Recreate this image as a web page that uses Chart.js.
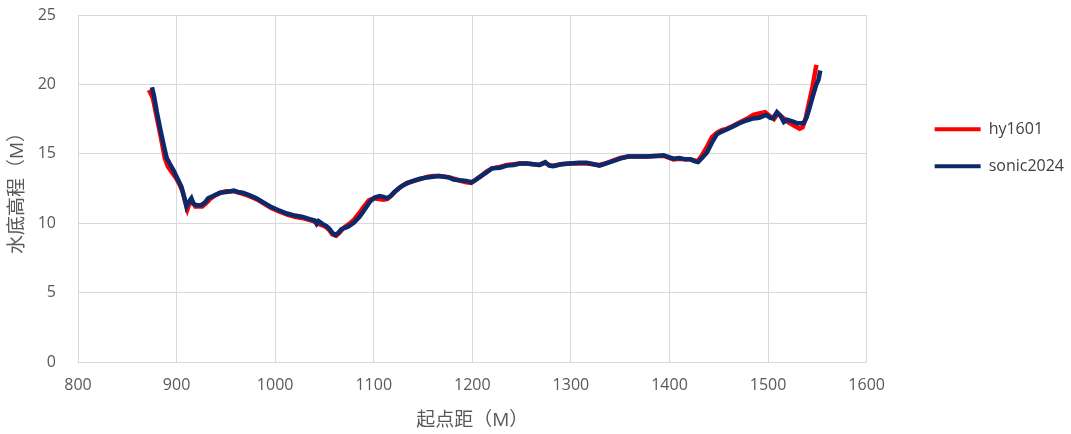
<!DOCTYPE html>
<html>
<head>
<meta charset="utf-8">
<script src="https://cdn.jsdelivr.net/npm/chart.js@4/dist/chart.umd.min.js"></script>
<style>
html,body{margin:0;padding:0;background:#fff;}
#wrap{width:1071px;height:434px;position:relative;}
</style>
</head>
<body>
<div id="wrap"><canvas id="c" width="1071" height="434"></canvas></div>
<script>
const seriesNames = ["hy1601", "sonic2024"];
const xTitle = "起点距（M）";
const yTitle = "水底高程（M）";

const hyDist = [872,876,880,884,888,891,895,899,903,906,909,911,913,916,919,922,926,930,934,939,945,950,955,959,963,968,972,977,982,989,996,1004,1013,1021,1029,1036,1041,1044,1048,1052,1055,1058,1062,1065,1068,1071,1075,1080,1085,1090,1095,1100,1105,1110,1114,1118,1122,1128,1134,1141,1148,1155,1161,1167,1172,1177,1182,1188,1194,1199,1203,1208,1214,1220,1228,1235,1242,1248,1255,1262,1268,1274,1278,1282,1290,1299,1308,1316,1323,1329,1335,1342,1350,1358,1366,1377,1386,1394,1400,1404,1410,1416,1421,1426,1429,1433,1438,1443,1448,1453,1458,1464,1471,1478,1485,1491,1497,1502,1506,1510,1515,1520,1527,1532,1535,1538,1541,1545,1548,1549];
const hyElev = [19.6,19.0,17.6,16.2,14.7,14.1,13.7,13.3,12.8,12.3,11.5,11.0,11.4,11.6,11.2,11.2,11.2,11.45,11.75,12.0,12.2,12.3,12.3,12.3,12.2,12.1,12.0,11.85,11.7,11.4,11.1,10.85,10.6,10.45,10.35,10.2,10.1,9.95,9.85,9.7,9.5,9.2,9.1,9.3,9.55,9.75,9.95,10.25,10.7,11.2,11.65,11.8,11.75,11.7,11.75,12.0,12.3,12.65,12.9,13.05,13.2,13.35,13.4,13.4,13.35,13.3,13.2,13.05,12.95,12.9,13.1,13.35,13.7,13.95,14.05,14.2,14.25,14.3,14.3,14.25,14.2,14.35,14.2,14.15,14.25,14.3,14.3,14.3,14.25,14.2,14.3,14.5,14.7,14.8,14.8,14.8,14.85,14.85,14.7,14.6,14.65,14.6,14.6,14.5,14.5,14.9,15.5,16.2,16.5,16.7,16.8,17.0,17.25,17.5,17.8,17.9,18.0,17.7,17.5,17.9,17.6,17.3,17.0,16.8,16.9,17.5,18.5,19.8,21.0,21.4];

const sonicDist = [875,877,880,884,888,890,893,897,901,905,908,910,912,915,917,920,925,929,932,938,944,950,955,958,962,967,971,976,981,988,995,1003,1012,1020,1028,1035,1040,1042,1044,1048,1052,1055,1058,1061,1064,1067,1070,1074,1080,1086,1091,1096,1101,1106,1110,1113,1117,1121,1127,1133,1140,1147,1154,1160,1166,1171,1176,1181,1187,1194,1199,1203,1208,1214,1220,1228,1235,1242,1248,1255,1262,1268,1274,1278,1282,1290,1299,1308,1316,1323,1329,1335,1342,1350,1358,1366,1377,1386,1394,1400,1404,1410,1416,1421,1426,1429,1433,1438,1443,1448,1453,1458,1464,1471,1478,1485,1491,1498,1502,1505,1509,1513,1516,1519,1524,1530,1536,1539,1542,1546,1549,1551,1553];
const sonicElev = [19.8,19.2,18.0,16.6,15.3,14.7,14.3,13.8,13.2,12.6,11.8,11.2,11.5,11.8,11.4,11.3,11.3,11.5,11.8,12.0,12.2,12.25,12.3,12.35,12.25,12.2,12.1,11.95,11.8,11.5,11.2,10.95,10.7,10.55,10.45,10.3,10.2,9.95,10.15,9.95,9.8,9.6,9.3,9.15,9.3,9.55,9.65,9.75,10.05,10.5,11.0,11.55,11.85,11.95,11.9,11.8,11.95,12.25,12.6,12.85,13.05,13.2,13.3,13.35,13.4,13.35,13.3,13.15,13.1,13.05,12.95,13.1,13.35,13.65,13.95,14.0,14.15,14.2,14.3,14.3,14.25,14.2,14.4,14.15,14.1,14.25,14.3,14.35,14.35,14.25,14.15,14.3,14.45,14.65,14.8,14.8,14.8,14.85,14.9,14.75,14.65,14.7,14.6,14.6,14.45,14.4,14.7,15.1,15.8,16.4,16.6,16.75,16.95,17.2,17.4,17.55,17.6,17.8,17.6,17.55,18.0,17.7,17.3,17.45,17.35,17.2,17.2,17.6,18.3,19.3,20.0,20.3,21.0];

const xTicks = [800,900,1000,1100,1200,1300,1400,1500,1600];
const yTicks = [0,5,10,15,20,25];

const colors = ["#ff0000", "#0c2a6a"];
const FONT = "'Open Sans', 'Noto Sans CJK SC', sans-serif";

function pts(xs, ys){ return xs.map((x,i)=>({x:x, y:ys[i]})); }

const legendShift = {
  id: 'legendShift',
  afterLayout(chart) {
    const lg = chart.legend;
    if (lg) { lg.left += 47; lg.right += 47; }
  }
};

new Chart(document.getElementById('c'), {
  type: 'scatter',
  data: {
    datasets: [
      {label: seriesNames[0], data: pts(hyDist, hyElev), showLine: true, borderColor: colors[0], backgroundColor: colors[0], borderWidth: 4.5, pointRadius: 0, tension: 0, order: 1},
      {label: seriesNames[1], data: pts(sonicDist, sonicElev), showLine: true, borderColor: colors[1], backgroundColor: colors[1], borderWidth: 4.5, pointRadius: 0, tension: 0, order: 0}
    ]
  },
  plugins: [legendShift],
  options: {
    responsive: false,
    animation: false,
    layout: {padding: {top: 15, right: 44, left: 5, bottom: 0}},
    plugins: {
      tooltip: {enabled: false},
      legend: {
        position: 'right',
        align: 'start',
        title: {display: true, text: ' ', padding: {top: 84, bottom: 0}, font: {size: 1}},
        labels: {
          boxWidth: 46, boxHeight: 4, padding: 21,
          color: '#404040',
          font: {family: FONT, size: 16},
          generateLabels: (chart) => chart.data.datasets.map((d,i)=>({
            text: d.label, fillStyle: d.borderColor, strokeStyle: d.borderColor, lineWidth: 0, datasetIndex: i, fontColor: '#404040'
          }))
        }
      }
    },
    scales: {
      x: {
        type: 'linear', min: 800, max: 1600,
        afterBuildTicks: (axis) => { axis.ticks = xTicks.map(v=>({value:v})); },
        afterFit: (axis) => { axis.height = 72; axis.paddingLeft = 0; axis.paddingRight = 0; },
        ticks: {color: '#595959', font: {family: FONT, size: 16}, padding: 14, maxRotation: 0, callback: (v) => String(v)},
        grid: {color: '#d9d9d9', lineWidth: 1, drawTicks: false},
        border: {color: '#d9d9d9'},
        title: {display: true, text: xTitle, color: '#595959', font: {family: FONT, size: 19}, padding: {top: 4, bottom: 2}}
      },
      y: {
        min: 0, max: 25,
        afterBuildTicks: (axis) => { axis.ticks = yTicks.map(v=>({value:v})); },
        afterFit: (axis) => { axis.width = 73; axis.paddingTop = 0; axis.paddingBottom = 0; },
        ticks: {color: '#595959', font: {family: FONT, size: 16}, padding: 22, callback: (v) => String(v)},
        grid: {color: '#d9d9d9', lineWidth: 1, drawTicks: false},
        border: {color: '#d9d9d9'},
        title: {display: true, text: yTitle, color: '#595959', font: {family: FONT, size: 19}, padding: {top: 1, bottom: 0}}
      }
    }
  }
});
</script>
</body>
</html>
